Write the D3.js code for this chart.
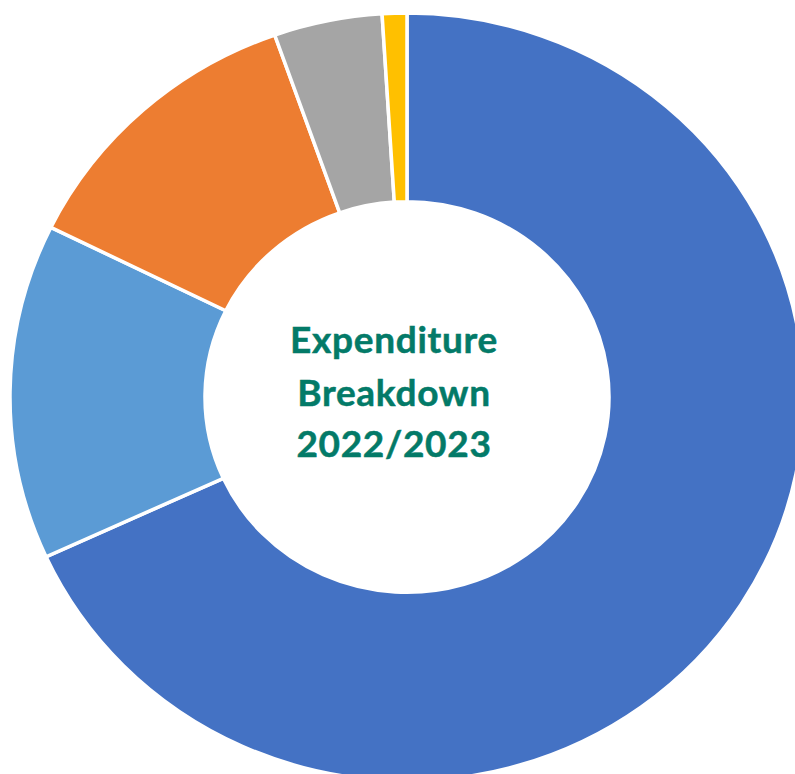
<!DOCTYPE html>
<html>
<head>
<meta charset="utf-8">
<script src="https://cdn.jsdelivr.net/npm/d3@7"></script>
<style>
  html, body { margin: 0; padding: 0; background: #fff; }
  svg { display: block; }
  .centre-title { font-family: Lato, "Open Sans", sans-serif; font-weight: 700; fill: #037a68; }
</style>
</head>
<body>
<svg id="chart"></svg>
<script>
// slices, clockwise from 12 o'clock (shares in %)
const categories = ['Segment 1', 'Segment 2', 'Segment 3', 'Segment 4', 'Segment 5'];
const shares = [68.1, 14.1, 12.3, 4.4, 1.0];
const colours = ['#4472c4', '#5b9bd5', '#ed7d31', '#a5a5a5', '#ffc000'];
const titleLines = ['Expenditure', 'Breakdown', '2022/2023'];

const width = 795, height = 774;
const cx = 407, cy = 397;
const outerR = 397, innerR = 202;
const squash = 0.967; // the picture is slightly flattened vertically

const data = categories.map((c, i) => ({ name: c, value: shares[i] }));

const svg = d3.select('#chart')
    .attr('width', width)
    .attr('height', height);

const colour = d3.scaleOrdinal()
    .domain(categories)
    .range(colours);

const pie = d3.pie()
    .sort(null)
    .value(d => d.value);

const arc = d3.arc()
    .innerRadius(innerR)
    .outerRadius(outerR);

const ring = svg.append('g')
    .attr('transform', `translate(${cx},${cy}) scale(1,${squash})`);

ring.selectAll('path')
    .data(pie(data))
  .join('path')
    .attr('d', arc)
    .attr('fill', d => colour(d.data.name))
    .attr('stroke', '#fff')
    .attr('stroke-width', 3.5)
    .attr('vector-effect', 'non-scaling-stroke');

// centre title
const baselines = [352.5, 405.5, 456.5];
svg.append('g')
  .selectAll('text')
    .data(titleLines)
  .join('text')
    .attr('class', 'centre-title')
    .attr('x', 394)
    .attr('y', (d, i) => baselines[i])
    .attr('text-anchor', 'middle')
    .style('font-size', '37px')
    .style('letter-spacing', '0.7px')
    .style('stroke', '#037a68')
    .style('stroke-width', 0.5)
    .text(d => d);
</script>
</body>
</html>
